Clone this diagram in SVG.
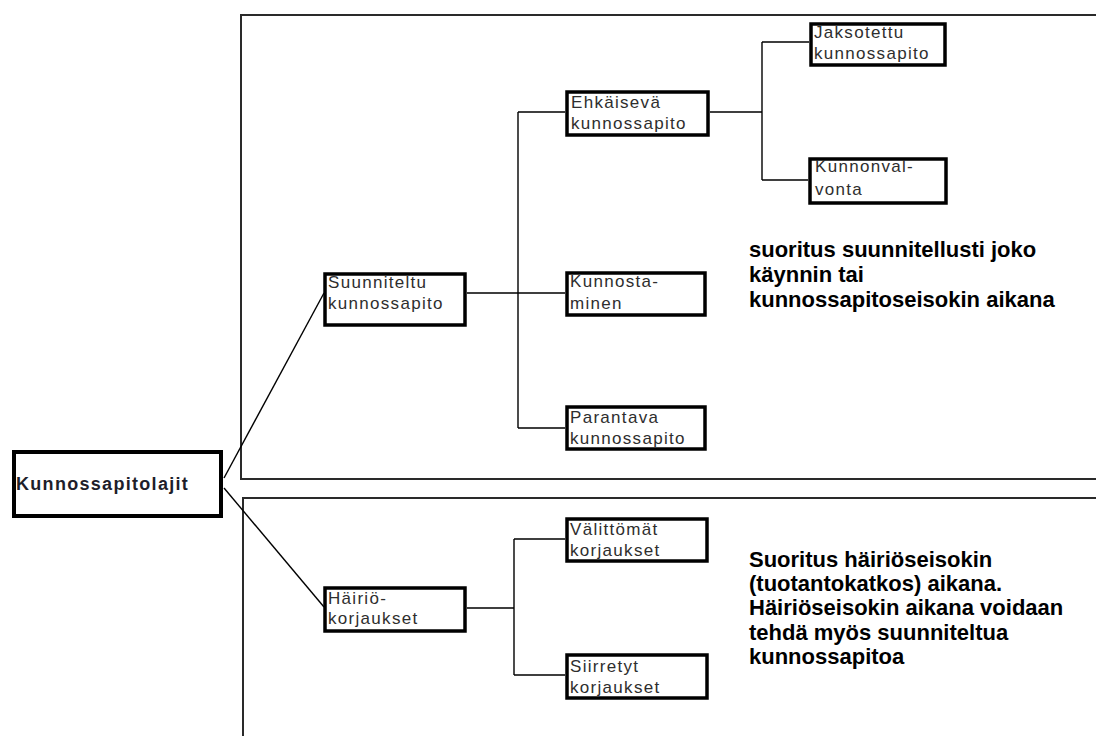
<svg xmlns="http://www.w3.org/2000/svg" width="1096" height="736" viewBox="0 0 1096 736">
<style>
.frame{fill:none;stroke:#2a2a2a;stroke-width:2}
.box{fill:#fff;stroke:#000;stroke-width:3.5}
.root{fill:#fff;stroke:#000;stroke-width:4}
.con{fill:none;stroke:#000;stroke-width:1.4}
.lbl{font-family:"Liberation Sans",Arial,sans-serif;font-size:17px;letter-spacing:1.3px;fill:#2e2e2e}
.rlbl{font-family:"Liberation Sans",Arial,sans-serif;font-size:18px;font-weight:bold;letter-spacing:1.3px;fill:#1e1e2a}
.desc{font-family:"Liberation Sans",Arial,sans-serif;font-size:22px;font-weight:bold;fill:#000}
</style>
<rect width="1096" height="736" fill="#fff"/>
<g id="frames">
<path class="frame" d="M1096,15 H241 V479 H1096"/>
<path class="frame" d="M1096,498 H243 V736"/>
</g>
<g id="connectors">
<line class="con" x1="224" y1="478" x2="324" y2="293"/>
<line class="con" x1="224" y1="488" x2="324" y2="607"/>
<path class="con" d="M467,293 H565 M518,112 V428 M518,112 H565 M518,428 H565"/>
<path class="con" d="M710,112 H762 M762,42 V180 M762,42 H809 M762,180 H808"/>
<path class="con" d="M467,608 H514 M514,539 V675 M514,539 H565 M514,675 H565"/>
</g>
<g id="n-root">
<rect class="root" x="14" y="452" width="207" height="64"/>
<text class="rlbl" x="16" y="490">Kunnossapitolajit</text>
</g>
<g id="n-suunniteltu">
<rect class="box" x="325" y="274" width="140" height="51"/>
<text class="lbl" x="328" y="288">Suunniteltu</text>
<text class="lbl" x="328" y="309">kunnossapito</text>
</g>
<g id="n-ehkaiseva">
<rect class="box" x="567" y="92" width="141" height="43"/>
<text class="lbl" x="571" y="108">Ehkäisevä</text>
<text class="lbl" x="571" y="129">kunnossapito</text>
</g>
<g id="n-jaksotettu">
<rect class="box" x="811" y="24" width="134" height="41"/>
<text class="lbl" x="814" y="38">Jaksotettu</text>
<text class="lbl" x="814" y="59">kunnossapito</text>
</g>
<g id="n-kunnonvalvonta">
<rect class="box" x="810" y="159" width="136" height="44"/>
<text class="lbl" x="815" y="172">Kunnonval-</text>
<text class="lbl" x="815" y="195">vonta</text>
</g>
<g id="n-kunnostaminen">
<rect class="box" x="567" y="273" width="138" height="42"/>
<text class="lbl" x="570" y="287">Kunnosta-</text>
<text class="lbl" x="570" y="309">minen</text>
</g>
<g id="n-parantava">
<rect class="box" x="567" y="407" width="138" height="42"/>
<text class="lbl" x="570" y="423">Parantava</text>
<text class="lbl" x="570" y="444">kunnossapito</text>
</g>
<g id="n-hairio">
<rect class="box" x="325" y="588" width="140" height="43"/>
<text class="lbl" x="328" y="604">Häiriö-</text>
<text class="lbl" x="328" y="624">korjaukset</text>
</g>
<g id="n-valittomat">
<rect class="box" x="567" y="519" width="140" height="42"/>
<text class="lbl" x="570" y="535">Välittömät</text>
<text class="lbl" x="570" y="556">korjaukset</text>
</g>
<g id="n-siirretyt">
<rect class="box" x="567" y="655" width="140" height="43"/>
<text class="lbl" x="570" y="672">Siirretyt</text>
<text class="lbl" x="570" y="693">korjaukset</text>
</g>
<g id="desc-top">
<text class="desc" x="749" y="257">suoritus suunnitellusti joko</text>
<text class="desc" x="749" y="282">käynnin tai</text>
<text class="desc" x="749" y="307">kunnossapitoseisokin aikana</text>
</g>
<g id="desc-bottom">
<text class="desc" x="749" y="567">Suoritus häiriöseisokin</text>
<text class="desc" x="749" y="591">(tuotantokatkos) aikana.</text>
<text class="desc" x="749" y="615">Häiriöseisokin aikana voidaan</text>
<text class="desc" x="749" y="640">tehdä myös suunniteltua</text>
<text class="desc" x="749" y="664">kunnossapitoa</text>
</g>
</svg>
